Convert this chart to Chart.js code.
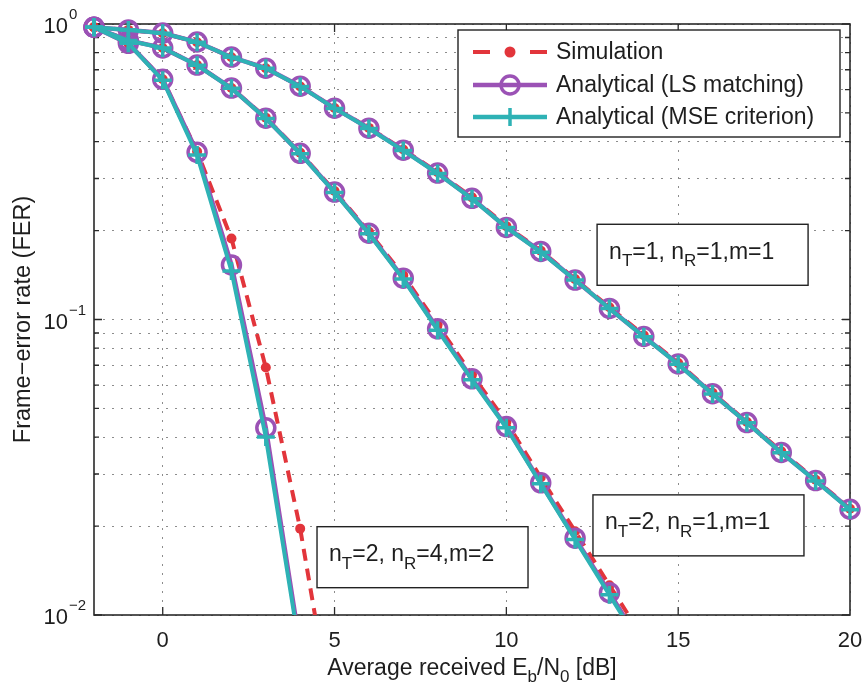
<!DOCTYPE html>
<html><head><meta charset="utf-8">
<script src="https://cdn.jsdelivr.net/npm/chart.js@4"></script>
<style>html,body{margin:0;padding:0;background:#fff}canvas{display:block}</style>
</head><body>
<canvas id="c" width="864" height="689"></canvas>
<script>
// ---------- data ----------
const snr1 = [-2,-1,0,1,2,3,4,5,6,7,8,9,10,11,12,13,14,15,16,17,18,19,20];
const fer1Sim = [0.975,0.955,0.930,0.868,0.772,0.708,0.615,0.520,0.445,0.376,0.315,0.259,0.207,0.171,0.137,0.110,0.0885,0.0712,0.0565,0.0450,0.0358,0.0287,0.0229];
const fer1LS  = [0.975,0.955,0.932,0.869,0.773,0.709,0.616,0.519,0.444,0.374,0.313,0.257,0.205,0.170,0.136,0.109,0.0876,0.0707,0.0561,0.0448,0.0355,0.0285,0.0228];
const fer1MSE = [0.975,0.955,0.931,0.868,0.772,0.708,0.615,0.518,0.443,0.373,0.312,0.256,0.205,0.169,0.136,0.109,0.0874,0.0705,0.0560,0.0447,0.0354,0.0284,0.0227];

const snr2 = [-2,-1,0,1,2,3,4,5,6,7,8,9,10,11,12,13,14];
const fer2Sim = [0.975,0.880,0.830,0.726,0.607,0.482,0.367,0.272,0.198,0.141,0.096,0.065,0.0450,0.0292,0.0192,0.0126,0.0083];
const fer2LS  = [0.975,0.880,0.830,0.726,0.607,0.480,0.365,0.270,0.196,0.138,0.093,0.063,0.0434,0.0280,0.0182,0.0119,0.0077];
const fer2MSE = [0.975,0.879,0.829,0.725,0.606,0.479,0.364,0.269,0.195,0.137,0.092,0.0625,0.0430,0.0278,0.0180,0.0117,0.0076];

const snr3Sim = [-2,-1,0,1,2,3,4,5];
const fer3Sim = [0.975,0.860,0.650,0.370,0.188,0.0688,0.0196,0.0041];
const snr3 = [-2,-1,0,1,2,3,4];
const fer3LS  = [0.975,0.860,0.650,0.368,0.153,0.043,0.0078];
const fer3MSE = [0.975,0.860,0.645,0.360,0.146,0.040,0.0075];

const xTickValues = [0,5,10,15,20];
const yGridValues = [0.01,0.02,0.03,0.04,0.05,0.06,0.07,0.08,0.09,0.1,0.2,0.3,0.4,0.5,0.6,0.7,0.8,0.9,1];
const yLabelValues = [1,0.1,0.01];

const legendLabels = ['Simulation','Analytical (LS matching)','Analytical (MSE criterion)'];
const xTitle = [['Average received E',0],['b',1],['/N',0],['0',1],[' [dB]',0]];
const yTitle = 'Frame\u2212error rate (FER)';
// annotations: [x (dB), y (FER) of top-left corner, text parts]
const notes = [
  {x:12.64, y:0.21,   parts:[['n',0],['T',1],['=1, n',0],['R',1],['=1,m=1',0]]},
  {x:12.52, y:0.0255, parts:[['n',0],['T',1],['=2, n',0],['R',1],['=1,m=1',0]]},
  {x:4.49,  y:0.0199, parts:[['n',0],['T',1],['=2, n',0],['R',1],['=4,m=2',0]]}
];

// ---------- styles ----------
const RED = '#e2353b', PURPLE = '#9b52b5', TEAL = '#2eb2b5';
const FONT = '"Liberation Sans", Arial, Helvetica, sans-serif';
const clipBox = {left:14, top:14, right:14, bottom:0};
const pts = (xs, ys) => xs.map((x,i)=>({x, y: ys[i]}));
function simSet(xs, ys){ return {label:'Simulation', data:pts(xs,ys), order:2, borderColor:RED, borderWidth:4, borderDash:[12,8],
  pointStyle:'circle', pointRadius:5, pointBackgroundColor:RED, pointBorderColor:RED, pointBorderWidth:0, clip:clipBox}; }
function lsSet(xs, ys){ return {label:'Analytical (LS matching)', data:pts(xs,ys), order:1, borderColor:PURPLE, borderWidth:4.5,
  pointStyle:'circle', pointRadius:9, pointBackgroundColor:'rgba(0,0,0,0)', pointBorderColor:PURPLE, pointBorderWidth:3.5, clip:clipBox}; }
function mseSet(xs, ys){ return {label:'Analytical (MSE criterion)', data:pts(xs,ys), order:0, borderColor:TEAL, borderWidth:4,
  pointStyle:'cross', pointRadius:9, pointBorderColor:TEAL, pointBorderWidth:3.5, clip:clipBox}; }

function drawRich(ctx, parts, x, y, align, size){
  const fMain = size + 'px ' + FONT, fSub = Math.round(size*0.72) + 'px ' + FONT;
  let w = 0;
  parts.forEach(p => { ctx.font = p[1] ? fSub : fMain; w += ctx.measureText(p[0]).width; });
  let cx = align === 'center' ? x - w/2 : (align === 'right' ? x - w : x);
  ctx.textAlign = 'left'; ctx.textBaseline = 'alphabetic';
  parts.forEach(p => {
    ctx.font = p[1] ? fSub : fMain;
    ctx.fillText(p[0], cx, y + (p[1] ? size*0.32 : 0));
    cx += ctx.measureText(p[0]).width;
  });
}

const decor = {
  id:'decor',
  beforeDatasetsDraw(chart){
    const {ctx, chartArea:a, scales:{x, y}} = chart;
    ctx.save();
    ctx.strokeStyle = '#2a2a2a'; ctx.lineWidth = 1.6;
    ctx.strokeRect(a.left, a.top, a.right-a.left, a.bottom-a.top);
    ctx.lineWidth = 1.3; ctx.beginPath();
    xTickValues.forEach(v => { if (v <= x.min || v >= x.max) return;
      const px = x.getPixelForValue(v);
      ctx.moveTo(px, a.bottom); ctx.lineTo(px, a.bottom-8);
      ctx.moveTo(px, a.top); ctx.lineTo(px, a.top+8); });
    yGridValues.forEach(v => {
      const py = y.getPixelForValue(v);
      const L = yLabelValues.includes(v) ? 8 : 5;
      ctx.moveTo(a.left, py); ctx.lineTo(a.left+L, py);
      ctx.moveTo(a.right, py); ctx.lineTo(a.right-L, py); });
    ctx.stroke();
    ctx.restore();
  },
  afterDraw(chart){
    const {ctx, chartArea:a, scales:{x, y}} = chart;
    ctx.save();
    ctx.fillStyle = '#1e1e1e';
    // y labels 10^n
    yLabelValues.forEach(v => {
      const py = y.getPixelForValue(v);
      const e = Math.round(Math.log10(v));
      const ex = (e < 0 ? '\u2212' : '') + Math.abs(e);
      ctx.font = '15px ' + FONT;
      ctx.textAlign = 'left'; ctx.textBaseline = 'alphabetic';
      ctx.fillText(ex, 69, py - 5);
      ctx.font = '22px ' + FONT; ctx.textAlign = 'right';
      ctx.fillText('10', 68, py + 9);
    });
    // axis titles
    drawRich(ctx, xTitle, (a.left+a.right)/2, 675, 'center', 23);
    ctx.save();
    ctx.translate(24, (a.top+a.bottom)/2); ctx.rotate(-Math.PI/2);
    ctx.font = '23.5px ' + FONT; ctx.textAlign = 'center'; ctx.textBaseline = 'middle';
    ctx.fillText(yTitle, 0, 0);
    ctx.restore();
    // annotation boxes
    notes.forEach(n => {
      const px = x.getPixelForValue(n.x), py = y.getPixelForValue(n.y);
      const w = 211, h = 61;
      ctx.fillStyle = '#fff'; ctx.fillRect(px, py, w, h);
      ctx.strokeStyle = '#222'; ctx.lineWidth = 1.4; ctx.strokeRect(px, py, w, h);
      ctx.fillStyle = '#1e1e1e';
      drawRich(ctx, n.parts, px + 12, py + h/2 + 4, 'left', 23);
    });
    // legend
    const L = {x:458, y:30, w:382, h:107};
    ctx.fillStyle = '#fff'; ctx.fillRect(L.x, L.y, L.w, L.h);
    ctx.strokeStyle = '#222'; ctx.lineWidth = 1.4; ctx.strokeRect(L.x, L.y, L.w, L.h);
    const rows = [52, 85, 117];
    const x0 = 473, x1 = 547, xm = 510;
    ctx.lineCap = 'butt';
    // sim
    ctx.strokeStyle = RED; ctx.fillStyle = RED; ctx.lineWidth = 4;
    ctx.beginPath(); ctx.moveTo(x0, rows[0]); ctx.lineTo(x0+17, rows[0]); ctx.moveTo(x1-17, rows[0]); ctx.lineTo(x1, rows[0]); ctx.stroke();
    ctx.beginPath(); ctx.arc(xm, rows[0], 5.5, 0, Math.PI*2); ctx.fill();
    // LS
    ctx.strokeStyle = PURPLE; ctx.lineWidth = 4.5;
    ctx.beginPath(); ctx.moveTo(x0, rows[1]); ctx.lineTo(x1, rows[1]); ctx.stroke();
    ctx.lineWidth = 3.5; ctx.beginPath(); ctx.arc(xm, rows[1], 9, 0, Math.PI*2); ctx.stroke();
    // MSE
    ctx.strokeStyle = TEAL; ctx.lineWidth = 4.5;
    ctx.beginPath(); ctx.moveTo(x0, rows[2]); ctx.lineTo(x1, rows[2]); ctx.stroke();
    ctx.lineWidth = 3.5; ctx.beginPath(); ctx.moveTo(xm, rows[2]-9); ctx.lineTo(xm, rows[2]+9); ctx.stroke();
    ctx.fillStyle = '#1e1e1e'; ctx.font = '23px ' + FONT; ctx.textAlign = 'left'; ctx.textBaseline = 'middle';
    legendLabels.forEach((t,i) => ctx.fillText(t, 556, rows[i] + 1));
    ctx.restore();
  }
};

new Chart(document.getElementById('c'), {
  type:'line',
  data:{ datasets:[
    mseSet(snr1, fer1MSE), mseSet(snr2, fer2MSE), mseSet(snr3, fer3MSE),
    lsSet(snr1, fer1LS), lsSet(snr2, fer2LS), lsSet(snr3, fer3LS),
    simSet(snr1, fer1Sim), simSet(snr2, fer2Sim), simSet(snr3Sim, fer3Sim)
  ]},
  options:{
    responsive:false, animation:false, devicePixelRatio:1,
    layout:{padding:{top:24, right:14, left:0, bottom:0}},
    elements:{line:{tension:0}},
    plugins:{legend:{display:false}, tooltip:{enabled:false}},
    scales:{
      x:{type:'linear', min:-2, max:20,
        afterBuildTicks: s => { s.ticks = xTickValues.map(v => ({value:v})); },
        afterFit: s => { s.height = 74; s.paddingLeft = 0; s.paddingRight = 0; },
        grid:{color:'#8c8c8c', lineWidth:1, drawTicks:false},
        border:{display:false, dash:[2,7]},
        ticks:{font:{family:FONT, size:22}, color:'#1e1e1e', padding:13, maxRotation:0, autoSkip:false}
      },
      y:{type:'logarithmic', min:0.01, max:1,
        afterBuildTicks: s => { s.ticks = yGridValues.map(v => ({value:v})); },
        afterFit: s => { s.width = 94; s.paddingTop = 0; s.paddingBottom = 0; },
        grid:{color:'#8c8c8c', lineWidth:1, drawTicks:false},
        border:{display:false, dash:[2,7]},
        ticks:{display:false, autoSkip:false}
      }
    }
  },
  plugins:[decor]
});
</script>
</body></html>
